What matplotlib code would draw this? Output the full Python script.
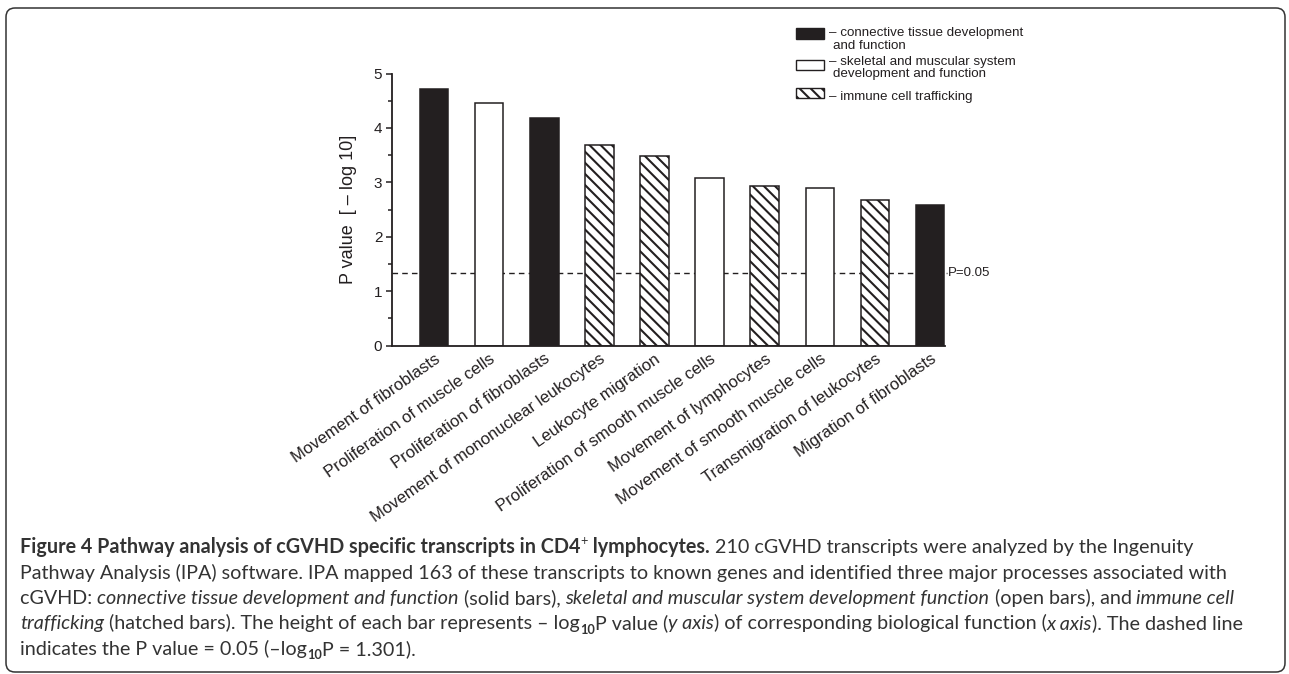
import matplotlib
matplotlib.use("Agg")
import matplotlib.pyplot as plt
from matplotlib.patches import Rectangle, FancyBboxPatch
from matplotlib.transforms import IdentityTransform
import numpy as np

W, H = 1289, 674
INK = "#231f20"

# data
categories = ["Movement of fibroblasts", "Proliferation of muscle cells",
              "Proliferation of fibroblasts", "Movement of mononuclear leukocytes",
              "Leukocyte migration", "Proliferation of smooth muscle cells",
              "Movement of lymphocytes", "Movement of smooth muscle cells",
              "Transmigration of leukocytes", "Migration of fibroblasts"]
values = [4.71, 4.45, 4.19, 3.68, 3.49, 3.08, 2.94, 2.89, 2.67, 2.59]
groups = ["ct", "sm", "ct", "ic", "ic", "sm", "ic", "sm", "ic", "ct"]
threshold = 1.34

legend_labels = {
    "ct": ["\u2013 connective tissue development", "and function"],
    "sm": ["\u2013 skeletal and muscular system", "development and function"],
    "ic": ["\u2013 immune cell trafficking"],
}
styles = {
    "ct": dict(facecolor=INK, hatch=None),
    "sm": dict(facecolor="white", hatch=None),
    "ic": dict(facecolor="white", hatch="\\\\\\"),
}

plt.rcParams["font.family"] = ["Liberation Sans", "DejaVu Sans"]
plt.rcParams["hatch.linewidth"] = 1.5
plt.rcParams["hatch.color"] = INK

fig = plt.figure(figsize=(W / 100, H / 100), dpi=100)

# frame round the whole figure
frame = FancyBboxPatch((6, 2), W - 10, H - 10, boxstyle="round,pad=0,rounding_size=9",
                       transform=IdentityTransform(), fill=False, edgecolor="#333333",
                       linewidth=1.1)
fig.patches.append(frame)

ax = fig.add_axes([392 / W, 1 - 345.7 / H, (945 - 392) / W, (345.7 - 73.5) / H])
x = np.arange(len(values))
for xi, v, g in zip(x, values, groups):
    st = styles[g]
    ax.bar(xi, v, width=0.52, color=st["facecolor"], edgecolor=INK, linewidth=1.1,
           hatch=st["hatch"], zorder=2)

ax.set_xlim(-0.76, 9.27)
ax.set_ylim(0, 5)
ax.plot([-0.76, 9.3], [threshold, threshold], ls=(0, (4, 3)), color=INK, lw=1.0,
        clip_on=False, zorder=1)
ax.annotate("P=0.05", xy=(1, threshold), xycoords=("axes fraction", "data"),
            xytext=(2, 0), textcoords="offset points", va="center", ha="left",
            fontsize=9.5, color=INK)

for s in ["top", "right"]:
    ax.spines[s].set_visible(False)
for s in ["left", "bottom"]:
    ax.spines[s].set_linewidth(1.3)
    ax.spines[s].set_color(INK)

ax.set_yticks(range(6))
ax.set_yticks(np.arange(0.5, 5, 1), minor=True)
ax.tick_params(axis="y", which="major", direction="out", length=4, width=1.1,
               labelsize=11, colors=INK, pad=3)
ax.tick_params(axis="y", which="minor", direction="out", length=3, width=1.1, colors=INK)
ax.set_xticks(x)
ax.set_xticklabels(categories, rotation=35, ha="right", rotation_mode="anchor",
                   fontsize=12, color=INK)
ax.tick_params(axis="x", length=0, pad=4)
ax.set_ylabel("P value  [ \u2013 log 10]", fontsize=13, color=INK, labelpad=12)

# legend drawn by hand at its place in the top right
leg_rows = [("ct", 28, 39, [33, 46]), ("sm", 60, 70, [62, 74]), ("ic", 88, 98, [97])]
for g, top, bot, ys in leg_rows:
    st = styles[g]
    fig.patches.append(Rectangle((796 / W, 1 - bot / H), 28 / W, (bot - top) / H,
                                 transform=fig.transFigure, facecolor=st["facecolor"],
                                 edgecolor=INK, linewidth=1.0, hatch=st["hatch"]))
    for k, (line, yy) in enumerate(zip(legend_labels[g], ys)):
        fig.text((829 if k == 0 else 833) / W, 1 - yy / H, line, fontsize=9.6,
                 va="center", ha="left", color=INK)

# caption, built from runs of differently styled text
renderer = fig.canvas.get_renderer()
CAP = ["Lato", "DejaVu Sans"]
CAPSIZE = 14.2
CAPCOLOR = "#333333"


def run_width(s, kw):
    t1 = fig.text(0, 0, s + "x", **kw)
    t2 = fig.text(0, 0, "x", **kw)
    w = t1.get_window_extent(renderer).width - t2.get_window_extent(renderer).width
    t1.remove()
    t2.remove()
    return w


def put_runs(x0, base, runs):
    xx = x0
    for s, style in runs:
        kw = dict(family=CAP, fontsize=CAPSIZE, color=CAPCOLOR, va="baseline", ha="left")
        dy = 0
        if "b" in style:
            kw["fontweight"] = "bold"
        if "i" in style:
            kw["fontstyle"] = "italic"
        if "sub" in style:
            kw["fontsize"] = CAPSIZE * 0.65
            dy = 4
        if "sup" in style:
            kw["fontsize"] = CAPSIZE * 0.65
            dy = -8
        fig.text(xx / W, 1 - (base + dy) / H, s, **kw)
        xx += run_width(s, kw)


caption = [
    [("Figure 4 Pathway analysis of cGVHD specific transcripts in CD4", "b"), ("+", "sup"),
     (" lymphocytes.", "b"), (" 210 cGVHD transcripts were analyzed by the Ingenuity", "n")],
    [("Pathway Analysis (IPA) software. IPA mapped 163 of these transcripts to known genes "
      "and identified three major processes associated with", "n")],
    [("cGVHD: ", "n"), ("connective tissue development and function", "i"),
     (" (solid bars), ", "n"), ("skeletal and muscular system development function", "i"),
     (" (open bars), and ", "n"), ("immune cell", "i")],
    [("trafficking", "i"), (" (hatched bars). The height of each bar represents \u2013 log", "n"),
     ("10", "sub"), ("P value (", "n"), ("y axis", "i"),
     (") of corresponding biological function (", "n"), ("x axis", "i"),
     ("). The dashed line", "n")],
    [("indicates the P value = 0.05 (\u2013log", "n"), ("10", "sub"), ("P = 1.301).", "n")],
]
for k, runs in enumerate(caption):
    put_runs(20, 553 + k * 25.5, runs)

fig.savefig("out.png", dpi=100)
